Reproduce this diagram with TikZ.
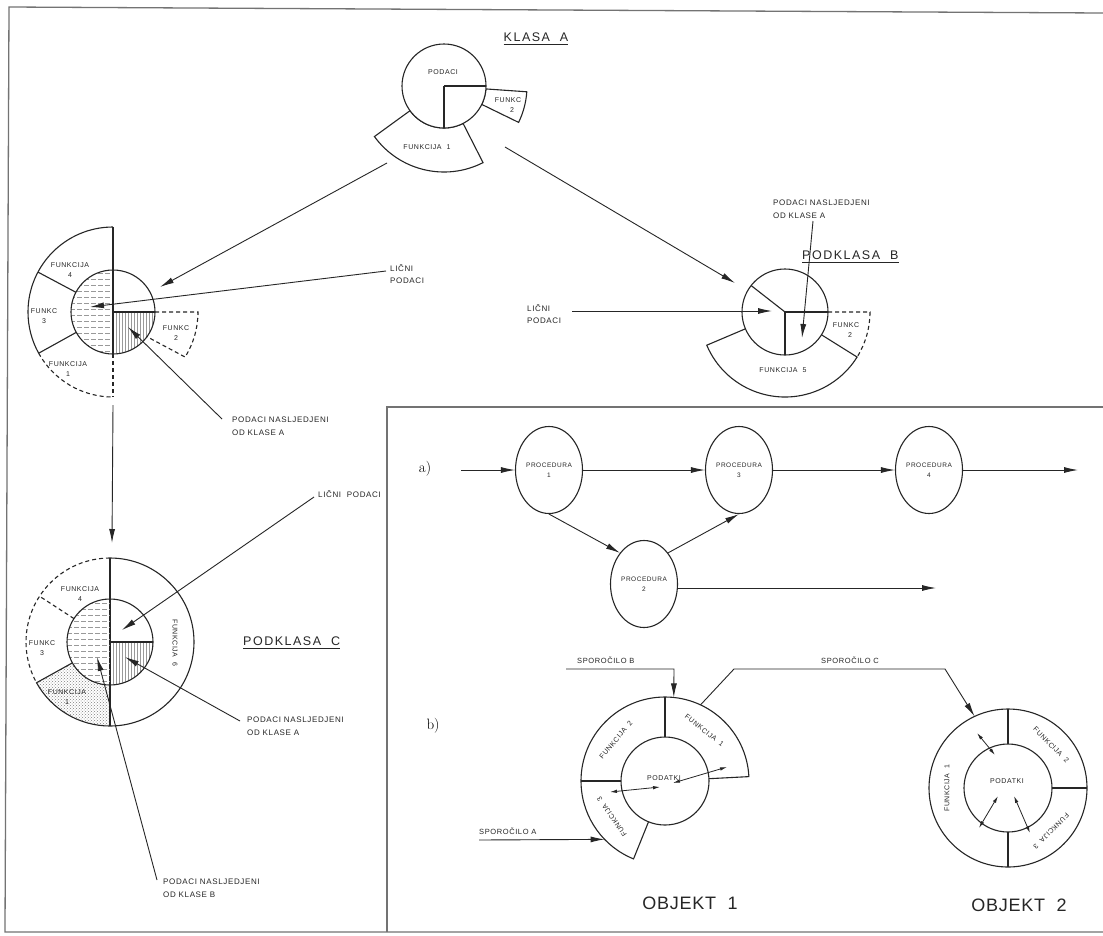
\documentclass[tikz,border=0pt]{standalone}
\usepackage{fontspec}
\usetikzlibrary{arrows.meta,calc,patterns,shapes.geometric}
\newfontfamily\labfont[LetterSpace=8]{Liberation Sans}
\newfontfamily\titlefont[LetterSpace=12]{Liberation Sans}
\newfontfamily\objfont[LetterSpace=4]{Liberation Sans}
\tikzset{
  ln/.style={line width=1.1pt, draw=black!85},
  dsh/.style={line width=1.1pt, draw=black!85, dash pattern=on 4pt off 3pt},
  frame/.style={line width=1.3pt, draw=black!55},
  arr/.style={line width=0.9pt, draw=black!85, -{Latex[length=14pt,width=6pt]}},
  darr/.style={line width=0.8pt, draw=black!85, {Latex[length=7pt,width=3.5pt]}-{Latex[length=7pt,width=3.5pt]}},
  hatchln/.style={line width=0.5pt, draw=black!40},
  tiny/.style={font=\labfont\fontsize{7}{10}\selectfont, align=center, inner sep=0pt, text=black!85},
  small/.style={font=\labfont\fontsize{8}{12.5}\selectfont, align=left, inner sep=0pt, anchor=west, text=black!85},
  ttl/.style={font=\titlefont\fontsize{12.5}{14}\selectfont, inner sep=0pt, text=black!85},
  obj/.style={font=\objfont\fontsize{18}{20}\selectfont, inner sep=0pt, text=black!85},
  proc/.style={ellipse, draw=black!85, line width=1.1pt, minimum width=67pt, minimum height=87pt, inner sep=0pt,
    font=\labfont\fontsize{6.5}{10}\selectfont, align=center, text=black!85},
}
\newcommand{\annsec}[6][]{%
  \draw[ln,#1] ($(#2)+(#3:#5pt)$) arc[start angle=#3,end angle=#4,radius=#5pt]
    -- ($(#2)+(#4:#6pt)$) arc[start angle=#4,end angle=#3,radius=#6pt] -- cycle;}
\newcommand{\hatchcirc}[2]{%
  \begin{scope}
    \clip ($(#1)+(90:#2pt)$) arc[start angle=90,end angle=270,radius=#2pt] -- cycle;
    \foreach \k in {-39,-33,...,40} {
      \draw[hatchln, dash pattern=on 5pt off 2pt] ($(#1)+(-50pt,\k pt)$) -- ($(#1)+(0pt,\k pt)$);}
  \end{scope}
  \begin{scope}
    \clip (#1) -- ($(#1)+(0:#2pt)$) arc[start angle=0,end angle=-90,radius=#2pt] -- cycle;
    \foreach \k in {3,6,...,45} {
      \draw[hatchln] ($(#1)+(\k pt,0pt)$) -- ($(#1)+(\k pt,-50pt)$);}
  \end{scope}}
\begin{document}
\begin{tikzpicture}[x=1pt,y=-1pt]
\useasboundingbox (0,0) rectangle (1103,935);
\fill[white] (0,0) rectangle (1103,935);

% frames
\draw[frame] (1103,13) -- (9,7) -- (5,932) -- (1103,932);
\draw[frame] (387,932) -- (387,407) -- (1103,407);

%%%%%%%% KLASA A
\coordinate (kA) at (444,86);
\node[ttl] (kAt) at (536,37) {KLASA\ \ A};
\draw[line width=0.8pt, black!85] ($(kAt.south west)+(0,-3pt)$) -- ($(kAt.south east)+(0,-3pt)$);
\annsec{kA}{216}{297}{42}{86}
\annsec{kA}{-26}{-4}{42}{83}
\draw[ln, fill=white] (kA) circle[radius=42pt];
\draw[ln] (kA) -- ($(kA)+(0:42pt)$);
\draw[ln] (kA) -- ($(kA)+(270:42pt)$);
\node[tiny] (kAd) at (443,72) {PODACI};
\node[tiny] (kAf2) at (508,105) {FUNKC\\\hspace*{8pt}2};
\node[tiny] (kAf1) at (427,147) {FUNKCIJA\ \ 1};

%%%%%%%% left class
\coordinate (lC) at (113,312);
\hatchcirc{lC}{42}
\draw[ln] (lC) circle[radius=42pt];
\draw[ln] ($(lC)+(90:85pt)$) arc[start angle=90,end angle=209,radius=85pt];
\draw[dsh] ($(lC)+(209:85pt)$) arc[start angle=209,end angle=270,radius=85pt];
\draw[ln] ($(lC)+(152:42pt)$) -- ($(lC)+(152:85pt)$);
\draw[ln] ($(lC)+(209:42pt)$) -- ($(lC)+(209:85pt)$);
\draw[ln] ($(lC)+(90:85pt)$) -- ($(lC)+(270:42pt)$);
\draw[dsh] ($(lC)+(270:42pt)$) -- ($(lC)+(270:85pt)$);
\draw[ln] (lC) -- ($(lC)+(0:42pt)$);
\draw[dsh] ($(lC)+(0:42pt)$) -- ($(lC)+(0:85pt)$) arc[start angle=0,end angle=-32,radius=85pt] -- ($(lC)+(-36:42pt)$);
\node[tiny] (lC4) at (70,270) {FUNKCIJA\\4};
\node[tiny] (lC3) at (44,316) {FUNKC\\3};
\node[tiny] (lC1) at (68,369) {FUNKCIJA\\1};
\node[tiny] (lC2) at (176,333) {FUNKC\\2};
\node[small] (lClp) at (390,274) {LIČNI\\PODACI};
\node[small] (lCpn) at (232,426) {PODACI NASLJEDJENI\\OD KLASE A};
\coordinate (kAl) at (387,163);
\coordinate (lCtip1) at (160,287);
\coordinate (lClps) at (386,271);
\coordinate (lCtip2) at (90,307);
\coordinate (lCpns) at (222,419);
\coordinate (lCtip3) at (128,327);
\draw[arr] (kAl) -- (lCtip1);
\draw[arr] (lClps) -- (lCtip2);
\draw[arr] (lCpns) -- (lCtip3);
\coordinate (lCbot) at (113,405);
\coordinate (pCtop) at (112,543);
\draw[arr] (lCbot) -- (pCtop);

%%%%%%%% PODKLASA B
\coordinate (pB) at (785,312);
\draw[ln] ($(pB)+(203:43pt)$) -- ($(pB)+(203:85pt)$) arc[start angle=203,end angle=328,radius=85pt] -- ($(pB)+(328:43pt)$);
\draw[dsh] ($(pB)+(0:43pt)$) -- ($(pB)+(0:85pt)$) arc[start angle=0,end angle=-32,radius=85pt];
\draw[ln, fill=white] (pB) circle[radius=43pt];
\draw[ln] (pB) -- ($(pB)+(142:43pt)$);
\draw[ln] (pB) -- ($(pB)+(0:43pt)$);
\draw[ln] (pB) -- ($(pB)+(270:43pt)$);
\node[tiny] (pB5) at (783,370) {FUNKCIJA\ \ 5};
\node[tiny] (pB2) at (846,330) {FUNKC\\\hspace*{8pt}2};
\node[ttl, anchor=west] (pBt) at (802,255) {PODKLASA\ \ B};
\draw[line width=0.8pt, black!85] ($(pBt.south west)+(0,-3pt)$) -- ($(pBt.south east)+(0,-3pt)$);
\node[small] (pBpn) at (773,209) {PODACI NASLJEDJENI\\OD KLASE A};
\node[small] (pBlp) at (527,314) {LIČNI\\PODACI};
\coordinate (kAr) at (505,147);
\coordinate (pBtip1) at (735,283);
\coordinate (pBpns) at (813,221);
\coordinate (pBtip2) at (802,338);
\coordinate (pBlps) at (572,311);
\coordinate (pBtip3) at (772,311);
\draw[arr] (kAr) -- (pBtip1);
\draw[arr] (pBpns) -- (pBtip2);
\draw[arr] (pBlps) -- (pBtip3);

%%%%%%%% PODKLASA C
\coordinate (pC) at (110,642);
\fill[pattern=crosshatch dots, pattern color=black!50] ($(pC)+(209:43pt)$) arc[start angle=209,end angle=270,radius=43pt]
   -- ($(pC)+(270:84pt)$) arc[start angle=270,end angle=209,radius=84pt] -- cycle;
\draw[ln] ($(pC)+(270:84pt)$) arc[start angle=-90,end angle=90,radius=84pt];
\draw[dsh] ($(pC)+(90:84pt)$) arc[start angle=90,end angle=209,radius=84pt];
\draw[ln] ($(pC)+(209:43pt)$) -- ($(pC)+(209:84pt)$) arc[start angle=209,end angle=270,radius=84pt];
\draw[dsh] ($(pC)+(147:43pt)$) -- ($(pC)+(147:84pt)$);
\draw[ln] ($(pC)+(90:84pt)$) -- ($(pC)+(270:84pt)$);
\hatchcirc{pC}{43}
\draw[ln] (pC) circle[radius=43pt];
\draw[ln] (pC) -- ($(pC)+(0:43pt)$);
\node[tiny] (pC4) at (80,594) {FUNKCIJA\\4};
\node[tiny] (pC3) at (42,648) {FUNKC\\3};
\node[tiny] (pC1) at (67,697) {FUNKCIJA\\1};
\node[tiny, rotate=-90] (pC6) at (175,643) {FUNKCIJA\ \ 6};
\node[ttl, anchor=west] (pCt) at (243,641) {PODKLASA\ \ C};
\draw[line width=0.8pt, black!85] ($(pCt.south west)+(0,-3pt)$) -- ($(pCt.south east)+(0,-3pt)$);
\node[small] (pClp) at (318,494) {LIČNI\ \ PODACI};
\node[small] (pCpa) at (247,726) {PODACI NASLJEDJENI\\OD KLASE A};
\node[small] (pCpb) at (163,888) {PODACI NASLJEDJENI\\OD KLASE B};
\coordinate (pClps) at (314,497);
\coordinate (pCtip1) at (122,630);
\coordinate (pCpas) at (240,721);
\coordinate (pCtip2) at (125,657);
\coordinate (pCpbs) at (157,880);
\coordinate (pCtip3) at (97,657);
\draw[arr] (pClps) -- (pCtip1);
\draw[arr] (pCpas) -- (pCtip2);
\draw[arr] (pCpbs) -- (pCtip3);

%%%%%%%% panel a
\node[font=\rmfamily\fontsize{15}{15}\selectfont, inner sep=0pt] (la) at (425,469) {a)};
\node[proc] (P1) at (549,470) {PROCEDURA\\1};
\node[proc] (P3) at (739,470) {PROCEDURA\\3};
\node[proc] (P4) at (929,470) {PROCEDURA\\4};
\node[proc] (P2) at (644,584) {PROCEDURA\\2};
\coordinate (ain) at (461,470);
\coordinate (aout4) at (1078,470);
\coordinate (aout2) at (936,588);
\draw[arr] (ain) -- (P1);
\draw[arr] (P1) -- (P3);
\draw[arr] (P3) -- (P4);
\draw[arr] (P4) -- (aout4);
\draw[arr] (P1.south) -- (P2.north west);
\draw[arr] (P2.north east) -- (P3.south);
\draw[arr] (P2.east |- aout2) -- (aout2);

%%%%%%%% panel b
\node[font=\rmfamily\fontsize{15}{15}\selectfont, inner sep=0pt] (lb) at (433,726) {b)};
% OBJEKT 1
\coordinate (o1) at (665,781);
\draw[ln] ($(o1)+(3:44pt)$) -- ($(o1)+(3:84pt)$) arc[start angle=3,end angle=248,radius=84pt] -- ($(o1)+(248:44pt)$);
\draw[ln] (o1) circle[radius=44pt];
\draw[ln] ($(o1)+(90:44pt)$) -- ($(o1)+(90:84pt)$);
\draw[ln] ($(o1)+(180:44pt)$) -- ($(o1)+(180:84pt)$);
\node[tiny] (o1d) at (664,778) {PODATKI};
\node[tiny, rotate=50] (o1f2) at ($(o1)+(140:64pt)$) {FUNKCIJA\ \ 2};
\node[tiny, rotate=-38] (o1f1) at ($(o1)+(52:64pt)$) {FUNKCIJA\ \ 1};
\node[tiny, rotate=124] (o1f3) at ($(o1)+(214:64pt)$) {FUNKCIJA\ \ 3};
\coordinate (o1a1) at (673,783); \coordinate (o1a2) at (727,767);
\coordinate (o1a3) at (610,792); \coordinate (o1a4) at (660,787);
\draw[darr] (o1a1) -- (o1a2);
\draw[darr] (o1a3) -- (o1a4);
\node[obj] (ob1) at (690,903) {OBJEKT\ \ 1};
% OBJEKT 2
\coordinate (o2) at (1008,788);
\draw[ln] (o2) circle[radius=79pt];
\draw[ln] (o2) circle[radius=44pt];
\draw[ln] ($(o2)+(90:44pt)$) -- ($(o2)+(90:79pt)$);
\draw[ln] ($(o2)+(0:44pt)$) -- ($(o2)+(0:79pt)$);
\draw[ln] ($(o2)+(270:44pt)$) -- ($(o2)+(270:79pt)$);
\node[tiny] (o2d) at (1007,781) {PODATKI};
\node[tiny, rotate=90] (o2f1) at ($(o2)+(180:61pt)$) {FUNKCIJA\ \ 1};
\node[tiny, rotate=-45] (o2f2) at ($(o2)+(45:61pt)$) {FUNKCIJA\ \ 2};
\node[tiny, rotate=225] (o2f3) at ($(o2)+(-45:61pt)$) {FUNKCIJA\ \ 3};
\coordinate (o2a1) at (977,733); \coordinate (o2a2) at (995,755);
\coordinate (o2a3) at (998,796); \coordinate (o2a4) at (979,828);
\coordinate (o2a5) at (1014,796); \coordinate (o2a6) at (1030,833);
\draw[darr] (o2a1) -- (o2a2);
\draw[darr] (o2a3) -- (o2a4);
\draw[darr] (o2a5) -- (o2a6);
\node[obj] (ob2) at (1019,905) {OBJEKT\ \ 2};
% messages
\node[small, font=\labfont\fontsize{7.5}{10}\selectfont] (sB) at (577,660) {SPOROČILO B};
\node[small, font=\labfont\fontsize{7.5}{10}\selectfont] (sC) at (821,660) {SPOROČILO C};
\node[small, font=\labfont\fontsize{7.5}{10}\selectfont] (sA) at (479,831) {SPOROČILO A};
\coordinate (sBs) at (566,669);
\coordinate (sBk) at (674,669);
\coordinate (sBt) at ($(o1)+(84:84pt)$);
\draw[arr] (sBs) -- (sBk) -- (sBt);
\coordinate (sAs) at (479,840);
\coordinate (sAt) at ($(o1)+(224:84pt)$);
\draw[arr] (sAs) -- (sAt);
\coordinate (sCs) at ($(o1)+(65:84pt)$);
\coordinate (sCk1) at (734,669);
\coordinate (sCk2) at (945,669);
\coordinate (sCt) at ($(o2)+(115:79pt)$);
\draw[arr] (sCs) -- (sCk1) -- (sCk2) -- (sCt);
\end{tikzpicture}
\end{document}
